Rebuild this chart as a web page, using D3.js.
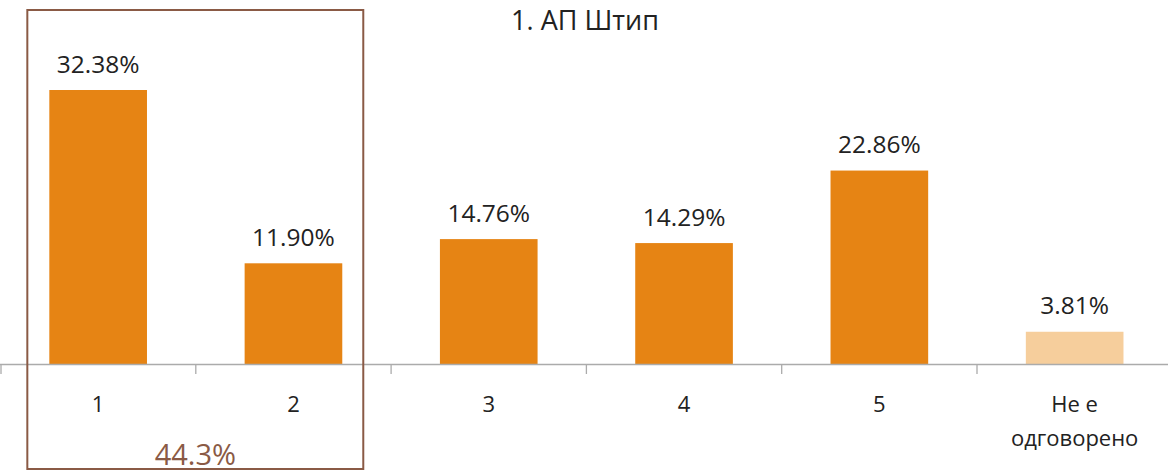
<!DOCTYPE html>
<html><head><meta charset="utf-8">
<script src="https://cdn.jsdelivr.net/npm/d3@7"></script>
<style>body{margin:0;background:#fff;} svg{display:block;font-family:"Open Sans","Noto Sans",sans-serif;}</style>
</head><body>
<svg id="c" width="1168" height="472"></svg>
<script>
const title = "1. АП Штип";
const categories = ["1", "2", "3", "4", "5", "Не е одговорено"];
const values = [32.38, 11.90, 14.76, 14.29, 22.86, 3.81];
const valueLabels = ["32.38%", "11.90%", "14.76%", "14.29%", "22.86%", "3.81%"];
const groupedCategories = ["1", "2"];
const groupedLabel = "44.3%";

const svg = d3.select("#c");
const W = 1168, H = 472;
const baseY = 364;
const x = d3.scaleBand().domain(categories).range([0.5, 1172.3]).paddingInner(0.5).paddingOuter(0.25);
const y = d3.scaleLinear().domain([0, 40]).range([baseY, baseY - 40 * 8.462]);

// bars
svg.selectAll("rect.bar").data(categories).join("rect")
  .attr("class", "bar")
  .attr("x", d => x(d))
  .attr("width", x.bandwidth())
  .attr("y", (d, i) => y(values[i]))
  .attr("height", (d, i) => baseY - y(values[i]))
  .attr("fill", (d, i) => i === categories.length - 1 ? "#F6CE9C" : "#E68414");

// value labels
svg.selectAll("text.val").data(categories).join("text")
  .attr("class", "val")
  .attr("x", d => x(d) + x.bandwidth() / 2)
  .attr("y", (d, i) => y(values[i]) - 17.5)
  .attr("text-anchor", "middle")
  .attr("font-size", 24.5)
  .attr("fill", "#222")
  .text((d, i) => valueLabels[i]);

// axis
const edges = d3.range(categories.length + 1).map(i => 0.5 + i * x.step());
svg.append("line").attr("x1", 0).attr("x2", W).attr("y1", baseY + 0.5).attr("y2", baseY + 0.5)
  .attr("stroke", "#ababab").attr("stroke-width", 1.3);
svg.selectAll("line.tick").data(edges).join("line")
  .attr("class", "tick")
  .attr("x1", d => Math.max(d, 1)).attr("x2", d => Math.max(d, 1))
  .attr("y1", baseY).attr("y2", baseY + 10)
  .attr("stroke", "#ababab").attr("stroke-width", 1.3);

// category labels
const cl = svg.selectAll("text.cat").data(categories).join("text")
  .attr("class", "cat")
  .attr("text-anchor", "middle")
  .attr("font-size", 22)
  .attr("fill", "#222");
cl.each(function(d) {
  const t = d3.select(this);
  const cx = x(d) + x.bandwidth() / 2;
  const lines = d === "Не е одговорено" ? ["Не е", "одговорено"] : [d];
  lines.forEach((ln, j) => {
    t.append("tspan").attr("x", cx).attr("y", 412 + j * 34).text(ln);
  });
});

// title
svg.append("text").attr("x", 585).attr("y", 30).attr("text-anchor", "middle")
  .attr("font-size", 27).attr("fill", "#222").text(title);

// group box
const gx0 = x(groupedCategories[0]) - 22;
const gx1 = x(groupedCategories[groupedCategories.length - 1]) + x.bandwidth() + 21;
svg.append("rect").attr("x", gx0).attr("y", 10).attr("width", gx1 - gx0).attr("height", 459)
  .attr("fill", "none").attr("stroke", "#8A5A45").attr("stroke-width", 2);
svg.append("text").attr("x", (gx0 + gx1) / 2).attr("y", 465).attr("text-anchor", "middle")
  .attr("font-size", 29).attr("fill", "#8A5A45").text(groupedLabel);
</script>
</body></html>
